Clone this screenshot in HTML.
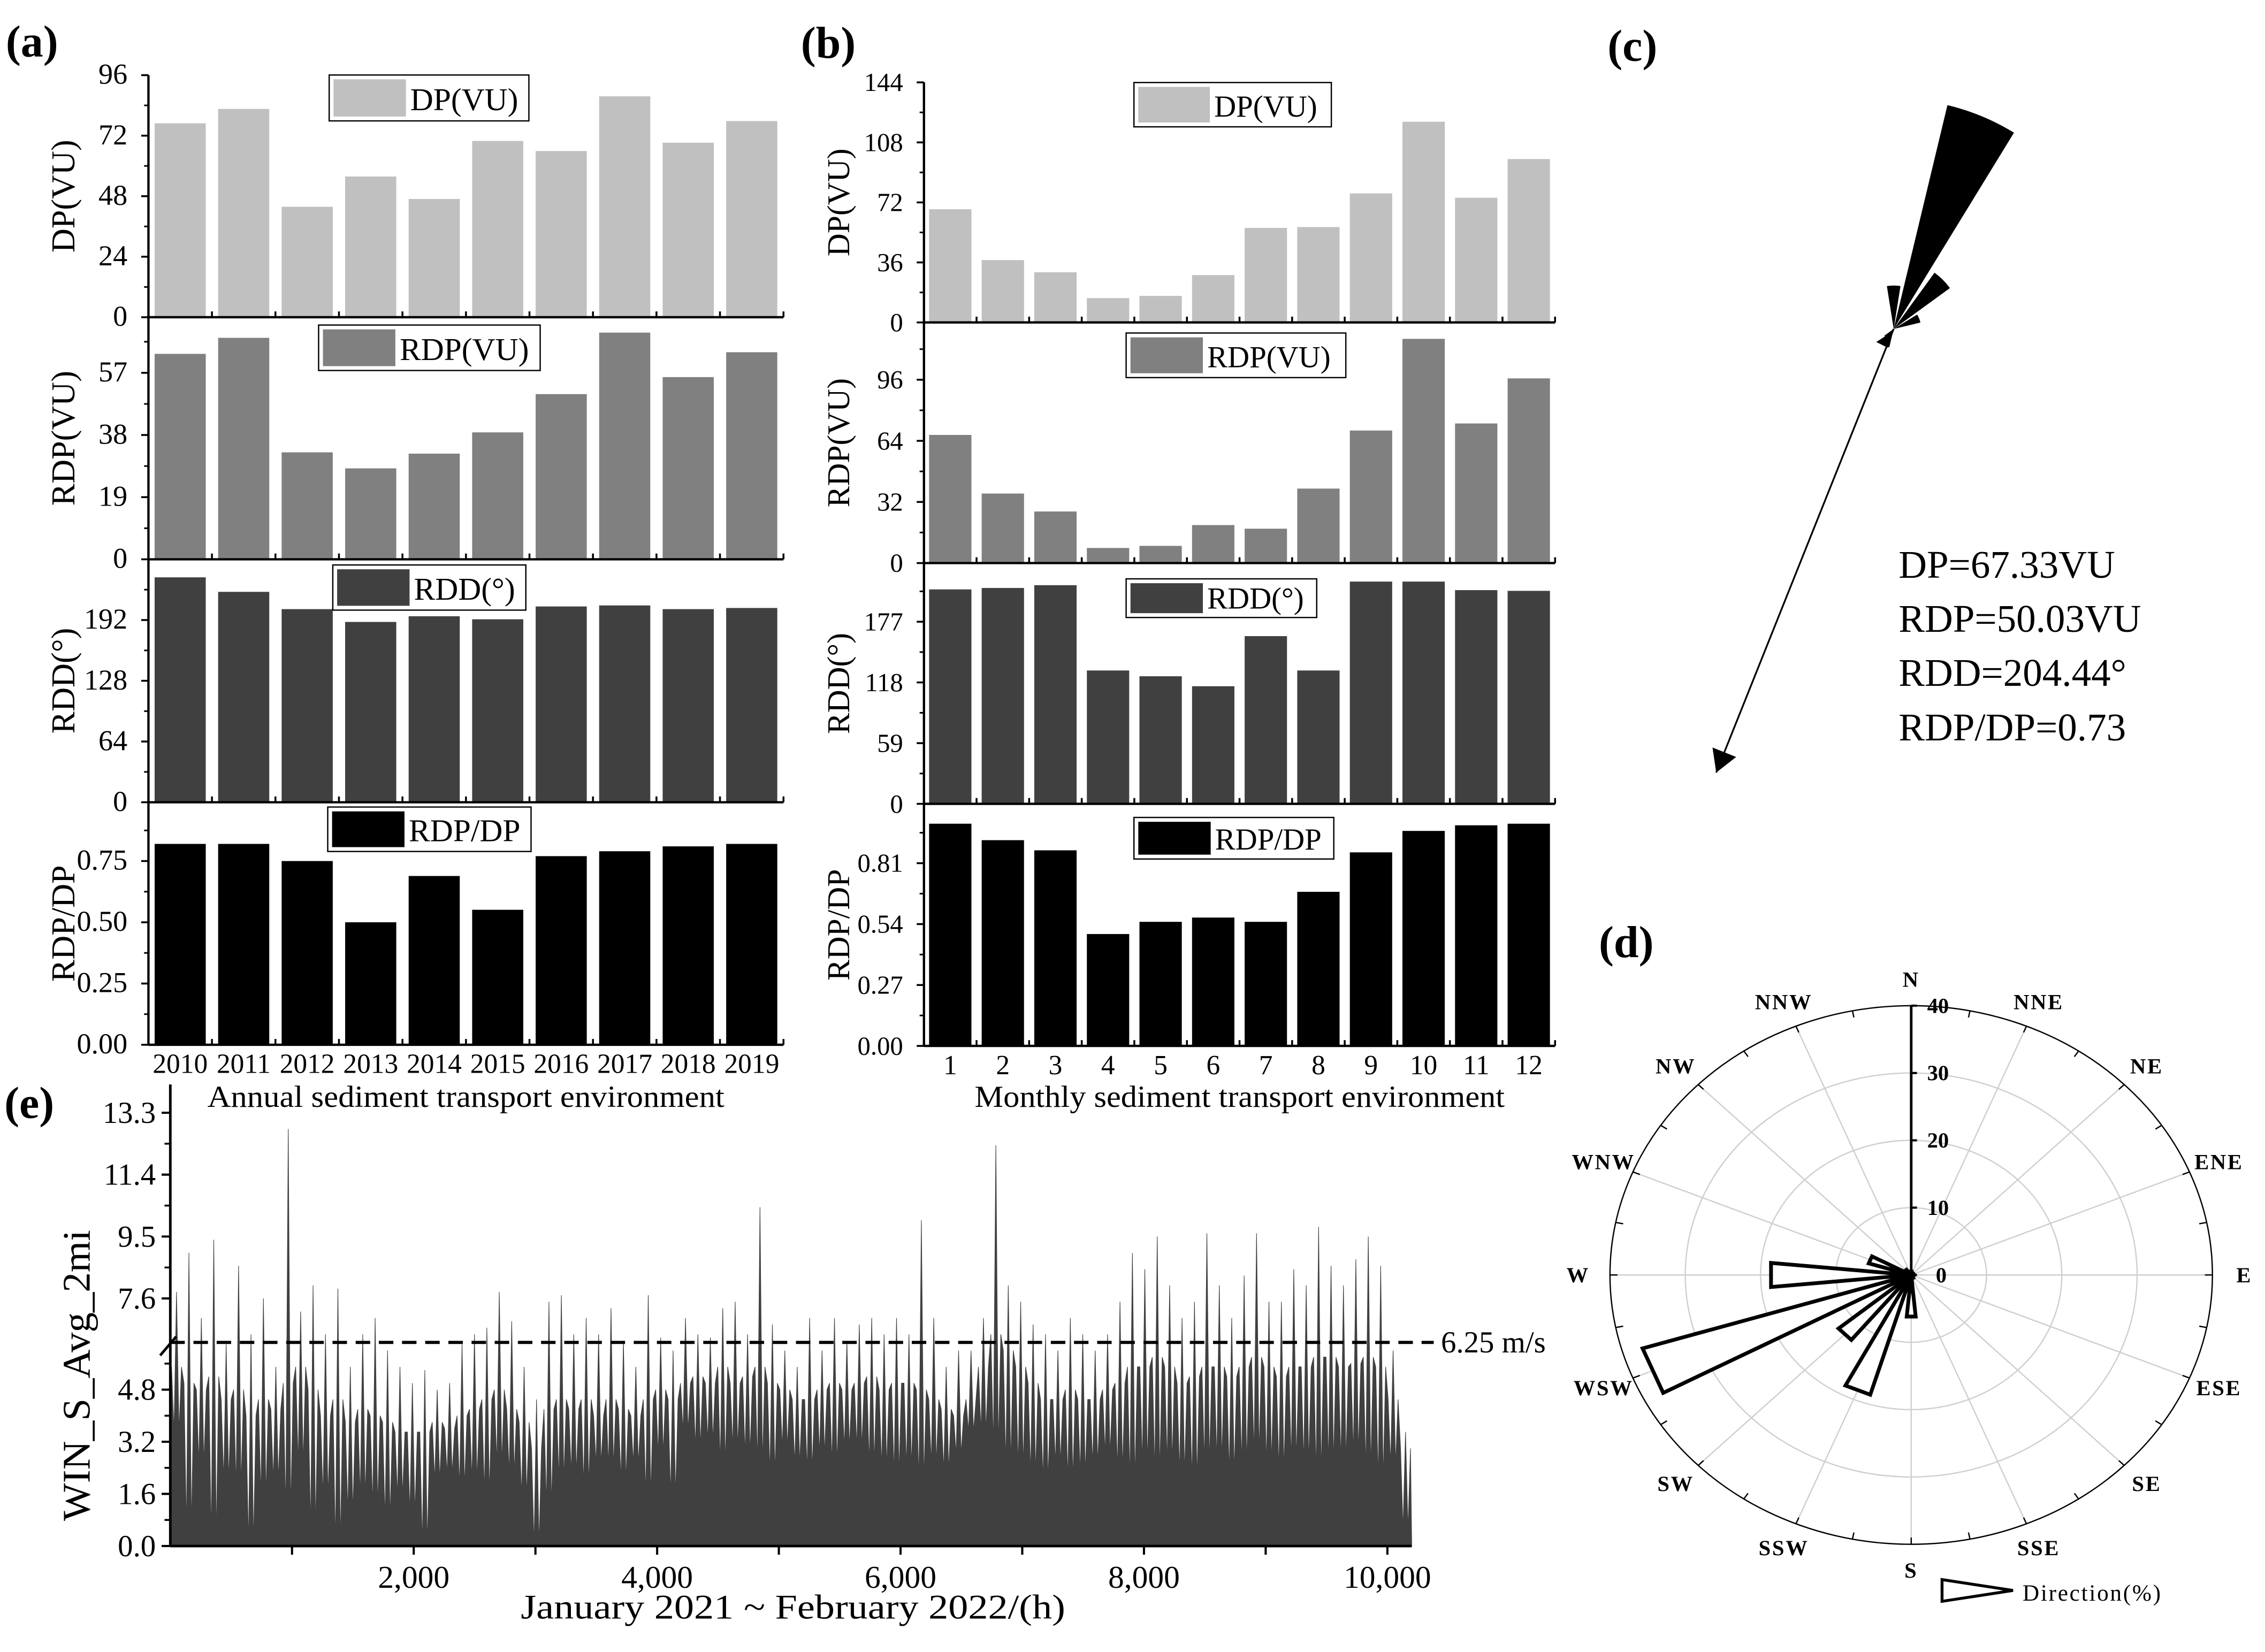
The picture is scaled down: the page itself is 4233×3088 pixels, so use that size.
<!DOCTYPE html>
<html><head><meta charset="utf-8"><title>Sediment transport figure</title>
<style>html,body{margin:0;padding:0;background:#fff}svg{display:block}svg text{font-family:"Liberation Serif","Times New Roman",serif}</style></head>
<body>
<svg id="fig" xmlns="http://www.w3.org/2000/svg" width="4233" height="3088" viewBox="0 0 1564 1141" preserveAspectRatio="none" style="font-family:'Liberation Serif',serif">
<rect x="0" y="0" width="1564" height="1141" fill="#fff"/>
</svg>
<script>
// ---------- data ----------
const years = ['2010','2011','2012','2013','2014','2015','2016','2017','2018','2019'];
const annualDP = [76.9,82.6,43.8,55.8,46.9,69.9,65.9,87.6,69.2,77.8];
const annualRDP = [62.8,67.7,32.7,27.8,32.3,38.8,50.5,69.3,55.7,63.3];
const annualRDD = [237,221.7,203.5,190,196,192.8,206.3,207.4,203.5,204.7];
const annualRatio = [0.82,0.82,0.75,0.50,0.689,0.551,0.77,0.79,0.81,0.82];
const months = ['1','2','3','4','5','6','7','8','9','10','11','12'];
const monthlyDP = [67.9,37.4,30.1,14.6,15.9,28.4,56.7,57.2,77.4,120.4,74.8,98];
const monthlyRDP = [67.1,36.4,27,7.9,9,19.9,18,39,69.4,117.4,73.1,96.7];
const monthlyRDD = [208.4,209.8,212.5,129.6,124,114.3,163,129.6,216,216,207.7,207];
const monthlyRatio = [0.985,0.912,0.867,0.496,0.55,0.569,0.55,0.683,0.858,0.953,0.978,0.985];
const annualTicksDP = [0,24,48,72,96];
const annualTicksRDP = [0,19,38,57];
const annualTicksRDD = [0,64,128,192];
const annualTicksRatio = [0,0.25,0.5,0.75];
const monthlyTicksDP = [0,36,72,108,144];
const monthlyTicksRDP = [0,32,64,96];
const monthlyTicksRDD = [0,59,118,177];
const monthlyTicksRatio = [0,0.27,0.54,0.81];
// wind speed series (per 102-h bin: high peak, dense band top, low trough)
const windHigh = [7.8,9.0,7.0,9.4,6.2,8.6,6.5,7.6,5.5,12.8,
 7.2,8.0,6.5,7.9,5.5,6.5,7.0,6.0,5.5,5.0,
 5.4,4.8,5.0,6.2,6.5,6.7,7.8,6.9,5.5,4.5,
 7.5,7.7,6.5,7.0,6.5,7.3,6.3,5.5,7.7,6.4,
 6.0,7.0,6.5,6.4,7.3,7.5,6.5,10.4,6.8,6.0,
 5.5,7.0,6.0,7.0,6.3,6.8,7.0,6.5,7.0,6.5,
 10.0,7.0,5.5,6.0,6.0,7.0,12.3,8.0,7.5,6.8,
 6.5,6.0,7.0,6.5,6.0,6.5,7.5,9.0,8.5,9.5,
 8.0,7.0,7.5,9.6,8.0,7.0,8.3,9.6,7.5,7.5,
 8.5,8.0,9.8,8.6,8.0,8.8,9.5,8.6,6.0,3.5];
const windMid = [5.5,5.0,4.8,5.2,4.5,4.8,4.0,4.5,4.2,5.0,
 5.5,4.8,4.0,4.5,3.8,4.2,4.0,3.8,3.5,3.5,
 3.5,3.8,3.6,4.0,4.2,4.5,4.8,4.2,3.8,3.0,
 4.2,4.5,4.2,4.5,4.0,4.5,4.2,4.0,4.5,4.8,
 4.5,5.0,5.2,5.0,5.5,5.0,5.2,5.5,5.0,4.8,
 4.5,4.5,4.8,5.0,4.8,5.0,5.2,4.8,5.0,5.0,
 4.8,4.5,4.2,4.0,4.5,5.5,6.5,6.0,5.5,5.0,
 4.5,4.5,4.8,4.5,4.5,4.8,5.0,5.5,5.5,5.8,
 5.5,5.0,5.2,5.5,5.5,5.2,5.5,5.8,5.5,5.2,
 5.5,5.5,5.8,5.8,5.5,5.6,5.8,5.5,4.5,3.0];
const windLow = [3.5,0.5,2.5,0.2,2.0,1.8,0.0,1.5,2.0,1.0,
 2.5,0.5,1.5,0.0,1.0,1.5,1.2,0.8,1.5,1.0,
 0.0,2.0,2.2,1.8,2.0,1.6,2.5,2.2,1.5,0.0,
 1.2,2.0,2.2,1.8,2.5,2.4,2.0,2.5,1.5,2.8,
 1.5,3.5,3.0,3.2,2.5,3.0,2.8,2.5,2.2,3.0,
 2.5,2.3,2.8,2.5,3.0,3.0,2.5,2.4,2.2,2.4,
 2.0,2.5,2.3,2.8,3.5,3.5,3.0,2.5,2.4,2.2,
 2.0,2.5,2.0,2.2,2.5,2.8,2.3,2.0,2.5,2.2,
 2.5,2.2,2.0,2.5,2.6,2.2,2.5,2.8,2.5,2.3,
 2.6,2.5,2.2,2.5,2.6,2.8,2.3,2.0,2.5,0.5];
const binHours = 102;
const threshold = 6.25;
const eTicks = [0,1.6,3.2,4.8,7.6,9.5,11.4,13.3];
const eTickLabels = ['0.0','1.6','3.2','4.8','7.6','9.5','11.4','13.3'];
const hourTicks = [2000,4000,6000,8000,10000];
const hourTickLabels = ['2,000','4,000','6,000','8,000','10,000'];
// sand rose (c)
const roseDirs = [0,22.5,45,67.5,202.5,225];
const roseDP = [30,159,48,19,13,8];
const resultantBearing = 201.8;
const resultantLen = 330;
// wind rose (d)
const compass = ['N','NNE','NE','ENE','E','ESE','SE','SSE','S','SSW','SW','WSW','W','WNW','NW','NNW'];
const windFreq = [0.5,0.3,0.3,0.3,0.3,0.3,0.3,0.5,6.2,18.6,12.5,37.3,18.7,5.9,1.0,0.5];
const rTicks = [0,10,20,30,40];

// ---------- helpers ----------
const NS = 'http://www.w3.org/2000/svg';
const svg = document.getElementById('fig');
function el(tag, attrs, parent){const e=document.createElementNS(NS,tag);for(const k in attrs)e.setAttribute(k,attrs[k]);(parent||svg).appendChild(e);return e;}
function tx(s, attrs, parent){const t=el('text',attrs,parent);t.textContent=s;return t;}

// ---------- bar panels ----------
function barPanel(id, x0, x1, rows, cats, catFont, xTitle, xTitleX, xTitleW, ylabelX, tickRight, labelFont, axisFont){
  const g = el('g',{});
  
  
  const n = cats.length, cw = (x1-x0)/n;
  rows.forEach((row, ri)=>{
    const ys = v => row.bottom - v/row.max*(row.bottom-row.top);
    row.values.forEach((v,i)=>{
      const bw = cw*0.805;
      const r = el('rect',{x:x0+i*cw+(cw-bw)/2, y:ys(v), width:bw, height:row.bottom-ys(v), fill:row.color},g);
      
      
    });
    const ax = el('line',{x1:x0,y1:row.bottom,x2:x1,y2:row.bottom,stroke:'#000','stroke-width':1.6},g);
    
    
    for(let k=1;k<=n;k++) el('line',{x1:x0+k*cw,y1:row.bottom,x2:x0+k*cw,y2:row.bottom-4,stroke:'#000','stroke-width':1.3},g);
    const tk=row.ticks;
    tk.forEach((t,i)=>{
      el('line',{x1:x0-5,y1:ys(t),x2:x0,y2:ys(t),stroke:'#000','stroke-width':1.3},g);
      const lab = tx(row.labels?row.labels[i]:String(t),{x:tickRight,y:ys(t)+6,'text-anchor':'end','font-size':axisFont},g);
      
      
      const step = tk[1]-tk[0], m = t+step/2;
      if(m<row.max) el('line',{x1:x0-3,y1:ys(m),x2:x0,y2:ys(m),stroke:'#000','stroke-width':1.1},g);
    });
    const cy=(row.top+row.bottom)/2;
    const yl = tx(row.title,{x:ylabelX,y:cy,'text-anchor':'middle','font-size':labelFont,transform:`rotate(-90 ${ylabelX} ${cy})`,'dominant-baseline':'central'},g);
    
    
    const L=row.legend;
    const lg = el('g',{},g);
    
    
    el('rect',{x:L[0],y:L[1],width:L[2],height:L[3],fill:'#fff',stroke:'#000','stroke-width':0.9},lg);
    el('rect',{x:L[0]+3,y:L[1]+3,width:L[4],height:L[3]-6,fill:row.color},lg);
    tx(row.legendText,{x:L[0]+L[4]+6,y:L[1]+L[3]*0.77,'font-size':L[5]},lg);
  });
  const yax = el('line',{x1:x0,y1:rows[0].top,x2:x0,y2:rows[rows.length-1].bottom,stroke:'#000','stroke-width':1.6},g);
  
  
  const last = rows[rows.length-1].bottom;
  cats.forEach((c,i)=>{
    const t = tx(c,{x:x0+(i+0.5)*cw,y:last+19.5,'text-anchor':'middle','font-size':catFont},g);
    
    
  });
  const xt = tx(xTitle,{x:xTitleX,y:764.5,'text-anchor':'middle','font-size':21,textLength:xTitleW,lengthAdjust:'spacingAndGlyphs'},g);
  
  
}

barPanel('annual',102.5,541,[
 {key:'dp',top:51.9,bottom:219.1,max:96,values:annualDP,ticks:annualTicksDP,color:'#c0c0c0',title:'DP(VU)',legendText:'DP(VU)',legend:[227.3,51.8,137.9,31.7,50,22]},
 {key:'rdp',top:219.1,bottom:386.3,max:74,values:annualRDP,ticks:annualTicksRDP,color:'#808080',title:'RDP(VU)',legendText:'RDP(VU)',legend:[220,224.5,153,31.4,50,22]},
 {key:'rdd',top:386.3,bottom:554.1,max:256,values:annualRDD,ticks:annualTicksRDD,color:'#404040',title:'RDD(°)',legendText:'RDD(°)',legend:[229.8,390.2,133.3,31.2,50,22]},
 {key:'ratio',top:554.1,bottom:721.6,max:0.99,values:annualRatio,ticks:annualTicksRatio,labels:['0.00','0.25','0.50','0.75'],color:'#000',title:'RDP/DP',legendText:'RDP/DP',legend:[226.3,557.4,140.4,30.7,50,22]}
], years, 19, 'Annual sediment transport environment', 321.7, 357, 44, 88, 23, 20);

barPanel('monthly',638,1073.8,[
 {key:'dp',top:56.9,bottom:222.7,max:144,values:monthlyDP,ticks:monthlyTicksDP,color:'#c0c0c0',title:'DP(VU)',legendText:'DP(VU)',legend:[783,57,136.3,30.6,49.4,21]},
 {key:'rdp',top:222.7,bottom:388.9,max:126,values:monthlyRDP,ticks:monthlyTicksRDP,color:'#808080',title:'RDP(VU)',legendText:'RDP(VU)',legend:[777.6,230,151.7,30.8,50,21]},
 {key:'rdd',top:388.9,bottom:555.2,max:234,values:monthlyRDD,ticks:monthlyTicksRDD,color:'#404040',title:'RDD(°)',legendText:'RDD(°)',legend:[777.6,399.8,131.6,26.7,50,21]},
 {key:'ratio',top:555.2,bottom:722.4,max:1.073,values:monthlyRatio,ticks:monthlyTicksRatio,labels:['0.00','0.27','0.54','0.81'],color:'#000',title:'RDP/DP',legendText:'RDP/DP',legend:[783,564.6,138,28.7,50,21]}
], months, 19, 'Monthly sediment transport environment', 856, 366, 579, 623.6, 22, 18);

// ---------- panel letters ----------
[['(a)',4,39],['(b)',553,40],['(c)',1110,42],['(d)',1104,661],['(e)',3,772]].forEach(p=>{
  const t=tx(p[0],{x:p[1],y:p[2],'font-size':31,'font-weight':'bold'});
  
  
});

// ---------- (e) wind speed ----------
const eX0=117.6, ePxPerH=0.08404, eY0=1067.8, ePxPerU=22.5;
const xE = h => eX0 + h*ePxPerH;
const yE = v => eY0 - v*ePxPerU;
const eg = el('g',{});


let d = `M${xE(0)},${yE(0)}`;
windHigh.forEach((hv,i)=>{
  const b=i*binHours;
  d += ` L${xE(b+0.1*binHours)},${yE(windMid[i])} L${xE(b+0.3*binHours)},${yE(windLow[i])} L${xE(b+0.5*binHours)},${yE(hv)} L${xE(b+0.7*binHours)},${yE(windLow[i])} L${xE(b+0.9*binHours)},${yE(windMid[i])}`;
});
d += ` L${xE(windHigh.length*binHours)},${yE(0)} Z`;
const area = el('path',{d:d,fill:'#404040',stroke:'#404040','stroke-width':0.4,'stroke-linejoin':'miter'},eg);


const thr = el('line',{x1:eX0,y1:yE(threshold),x2:990,y2:yE(threshold),stroke:'#000','stroke-width':2.2,'stroke-dasharray':'10,6'},eg);


const thrL = tx('6.25 m/s',{x:995,y:yE(threshold)+7,'font-size':21},eg);


el('line',{x1:eX0,y1:749,x2:eX0,y2:eY0,stroke:'#000','stroke-width':1.8},eg);
el('line',{x1:eX0,y1:eY0,x2:xE(windHigh.length*binHours),y2:eY0,stroke:'#000','stroke-width':1.8},eg);
el('line',{x1:eX0-7,y1:yE(threshold)+9,x2:eX0+4,y2:yE(threshold)-4,stroke:'#000','stroke-width':1.8},eg);
eTicks.forEach((t,i)=>{
  el('line',{x1:eX0-6,y1:yE(t),x2:eX0,y2:yE(t),stroke:'#000','stroke-width':1.5},eg);
  const l=tx(eTickLabels[i],{x:eX0-10,y:yE(t)+7,'text-anchor':'end','font-size':21},eg);
  
  
  if(i<eTicks.length-1 && t!==4.8){const m=(t+eTicks[i+1])/2; el('line',{x1:eX0-4,y1:yE(m),x2:eX0,y2:yE(m),stroke:'#000','stroke-width':1.3},eg);}
});
el('line',{x1:eX0-4,y1:yE(5.6),x2:eX0,y2:yE(5.6),stroke:'#000','stroke-width':1.3},eg);
for(let h=1000;h<=10000;h+=1000) el('line',{x1:xE(h),y1:eY0,x2:xE(h),y2:eY0+6,stroke:'#000','stroke-width':1.5},eg);
hourTicks.forEach((h,i)=>{
  const l=tx(hourTickLabels[i],{x:xE(h),y:1096.6,'text-anchor':'middle','font-size':22},eg);
  
  
});
const ext = tx('January 2021 ~ February 2022/(h)',{x:547.6,y:1118,'text-anchor':'middle','font-size':24,textLength:376,lengthAdjust:'spacingAndGlyphs'},eg);


const eyt = tx('WIN_S_Avg_2mi',{x:52.8,y:950,'text-anchor':'middle','dominant-baseline':'central','font-size':27,textLength:201,lengthAdjust:'spacingAndGlyphs',transform:'rotate(-90 52.8 950)'},eg);



// ---------- (c) sand rose ----------
const cg = el('g',{});


const ccx=1307.6, ccy=227.2;
const pol = (b,r)=>[ccx+r*Math.sin(b*Math.PI/180), ccy-r*Math.cos(b*Math.PI/180)];
roseDirs.forEach((b,i)=>{
  const r=roseDP[i], a=pol(b-9,r), c=pol(b+9,r);
  const w=el('path',{d:`M${ccx},${ccy} L${a[0]},${a[1]} A${r},${r} 0 0 1 ${c[0]},${c[1]} Z`,fill:'#000'},cg);
  
  
});
const tip = pol(resultantBearing,resultantLen);
const arr = el('line',{x1:ccx,y1:ccy,x2:tip[0],y2:tip[1],stroke:'#000','stroke-width':1.2},cg);


{const bb=resultantBearing, h1=pol(bb-1.6,resultantLen-15), h2=pol(bb+1.6,resultantLen-15);
 el('path',{d:`M${tip[0]},${tip[1]} L${h1[0]},${h1[1]} L${h2[0]},${h2[1]} Z`,fill:'#000'},cg);
 el('path',{d:`M${ccx-1},${ccy+2} L${ccx-12},${ccy+9} L${ccx-4},${ccy+13} Z`,fill:'#000'},cg);}
['DP=67.33VU','RDP=50.03VU','RDD=204.44°','RDP/DP=0.73'].forEach((s,i)=>{
  const t=tx(s,{x:1311,y:[399,436.4,473.7,511.3][i],'font-size':27},cg);
  
  
});

// ---------- (d) wind rose ----------
const dg = el('g',{});


const dcx=1319.7, dcy=880.6, drx=208, dry=186, dmax=40;
const pt = (b,v)=>[dcx+v/dmax*drx*Math.sin(b*Math.PI/180), dcy-v/dmax*dry*Math.cos(b*Math.PI/180)];
rTicks.slice(1,4).forEach(v=>el('ellipse',{cx:dcx,cy:dcy,rx:v/dmax*drx,ry:v/dmax*dry,fill:'none',stroke:'#cfcfcf','stroke-width':0.9},dg));
compass.forEach((c,i)=>{const p=pt(i*22.5,dmax); el('line',{x1:dcx,y1:dcy,x2:p[0],y2:p[1],stroke:'#cfcfcf','stroke-width':0.9},dg);});
el('ellipse',{cx:dcx,cy:dcy,rx:drx,ry:dry,fill:'none',stroke:'#000','stroke-width':0.9},dg);
for(let k=0;k<32;k++){const b=k*11.25,p1=pt(b,dmax),p2=pt(b,dmax*0.975); el('line',{x1:p1[0],y1:p1[1],x2:p2[0],y2:p2[1],stroke:'#000','stroke-width':0.9},dg);}
windFreq.forEach((f,i)=>{
  const b=i*22.5, a=pt(b-5.5,f), c=pt(b+5.5,f);
  const p=el('path',{d:`M${dcx},${dcy} L${a[0]},${a[1]} L${c[0]},${c[1]} Z`,fill:'#fff',stroke:'#000','stroke-width':2.6,'stroke-linejoin':'miter'},dg);
  
  
});
el('line',{x1:dcx,y1:dcy,x2:dcx,y2:dcy-dry,stroke:'#000','stroke-width':1.8},dg);
rTicks.forEach(v=>{
  const y=dcy-v/dmax*dry;
  el('line',{x1:dcx,y1:y,x2:dcx+4,y2:y,stroke:'#000','stroke-width':1.5},dg);
  const l=tx(String(v),{x:dcx+(v===0?17:11),y:y+5,'font-size':15,'font-weight':'bold'},dg);
  
  
});
compass.forEach((c,i)=>{
  const b=i*22.5, x=dcx+230*Math.sin(b*Math.PI/180), y=dcy-204*Math.cos(b*Math.PI/180);
  const l=tx(c,{x:x,y:y+5,'text-anchor':'middle','font-size':15,'font-weight':'bold','letter-spacing':1},dg);
  
  
});
const lgd = el('g',{},dg);


el('path',{d:'M1341,1091 L1341,1106 L1390,1098.5 Z',fill:'#fff',stroke:'#000','stroke-width':2},lgd);
tx('Direction(%)',{x:1396.6,y:1105.5,'font-size':16,'letter-spacing':1},lgd);
</script>
</body></html>
